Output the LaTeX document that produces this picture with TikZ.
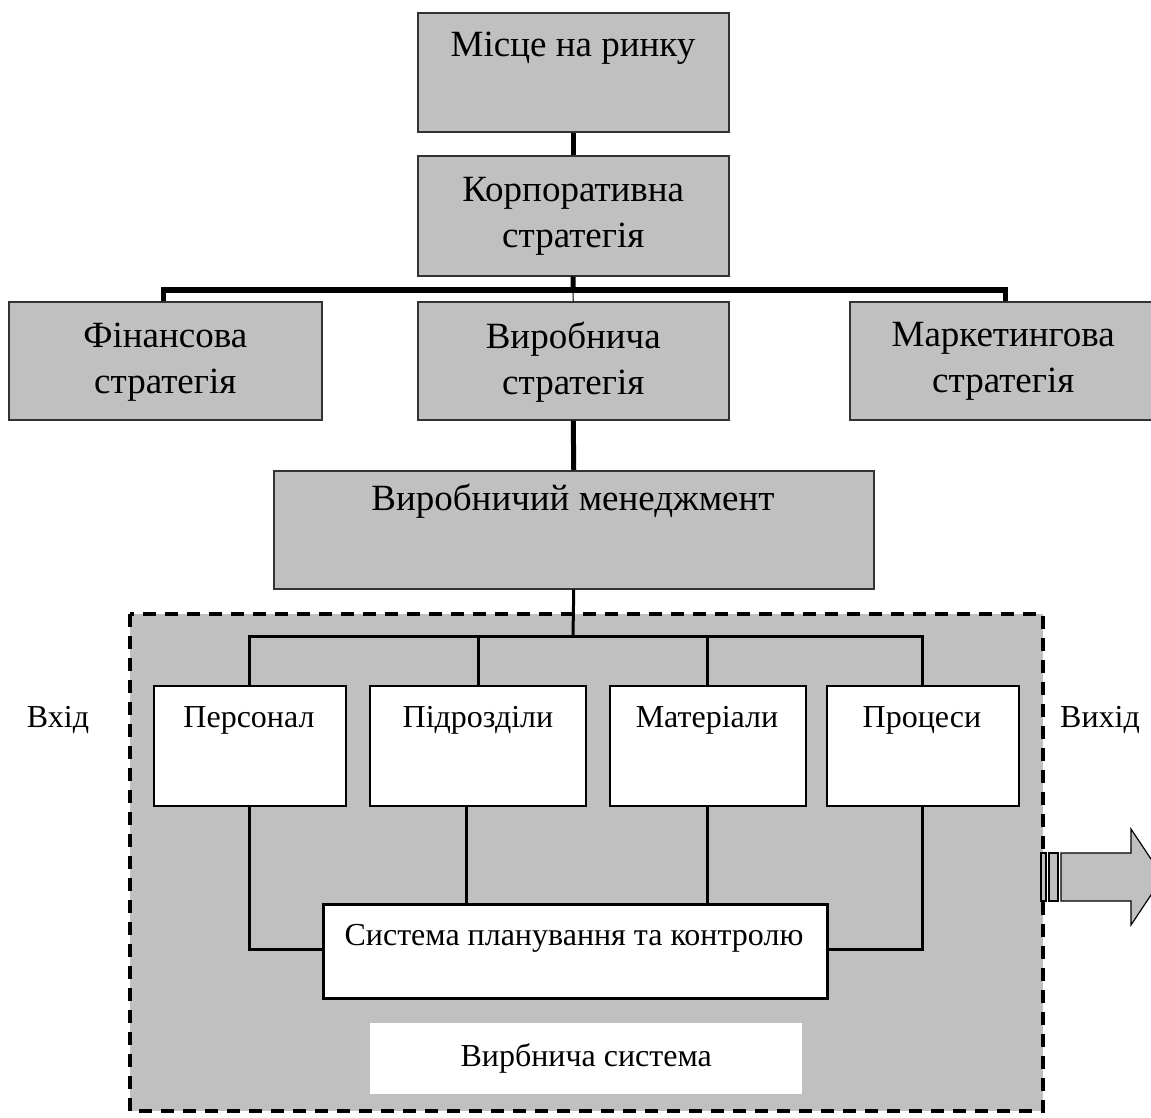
\documentclass[tikz,border=0pt]{standalone}
\usepackage{fontspec}
\setmainfont{Liberation Serif}
\begin{document}
\begin{tikzpicture}[x=1pt,y=-1pt,
  gbox/.style={draw=black!80,line width=1.5pt,fill=gray75,inner sep=0pt,anchor=north west},
  wbox/.style={draw=black,line width=1.5pt,fill=white,inner sep=0pt,anchor=north west},
  big/.style={font=\fontsize{37}{46}\selectfont,align=center,inner sep=0pt},
  small/.style={font=\fontsize{32}{36}\selectfont,align=center,inner sep=0pt},
  thickc/.style={line width=5pt},
  midc/.style={line width=3pt}]
\definecolor{gray75}{HTML}{C0C0C0}
\useasboundingbox (0,0) rectangle (1151,1117);
% dashed production system area
\fill[gray75] (130,614) rectangle (1043,1111);
\draw[line width=3.5pt,dash pattern=on 13pt off 9pt] (130,614) coordinate (dtl) rectangle (1043,1111) coordinate (dbr);
% top boxes
\node[gbox,minimum width=311pt,minimum height=119pt] (mr) at (417,12) {};
\node[big,anchor=center] (mrt) at (573,48) {Місце на ринку};
\node[gbox,minimum width=311pt,minimum height=120pt,big] (ks) at (417,155) {};
\node[big] (kst) at ([yshift=-1pt]ks.center) {Корпоративна\\стратегія};
\node[gbox,minimum width=313pt,minimum height=118pt] (fs) at (8,301) {};
\node[big] (fst) at ([yshift=-1pt]fs.center) {Фінансова\\стратегія};
\node[gbox,minimum width=311pt,minimum height=118pt] (vs) at (417,301) {};
\node[big] (vst) at ([yshift=-1pt]vs.center) {Виробнича\\стратегія};
\node[gbox,minimum width=305pt,minimum height=118pt] (ms) at (849,301) {};
\node[big] (mst) at ([xshift=1pt,yshift=-1pt]ms.center) {Маркетингова\\стратегія};
\node[gbox,minimum width=600pt,minimum height=118pt] (vm) at (273,470) {};
\node[big,anchor=center] (vmt) at (573,501) {Виробничий менеджмент};
% connectors top
\draw[thickc] (mr.south) -- (ks.north);
\coordinate (hb) at (573,290);
\draw[thickc] (ks.south) -- (hb);
\draw[line width=6pt] (163,290) -- (1005,290);
\draw[thickc] (163,287) -- (163,301);
\draw[thickc] (1005,287) -- (1005,301);
\draw[line width=1pt] (hb) -- (vs.north);
\draw[thickc] (vs.south) -- (vm.north);
% white boxes
\node[wbox,minimum width=192pt,minimum height=120pt] (p1) at (153,685) {};
\node[wbox,minimum width=216pt,minimum height=120pt] (p2) at (369,685) {};
\node[wbox,minimum width=196pt,minimum height=120pt] (p3) at (609,685) {};
\node[wbox,minimum width=192pt,minimum height=120pt] (p4) at (826,685) {};
\node[small] (p1t) at (249,720) {Персонал};
\node[small] (p2t) at (478,720) {Підрозділи};
\node[small] (p3t) at (707,720) {Матеріали};
\node[small] (p4t) at (922,720) {Процеси};
\node[wbox,line width=3pt,minimum width=504pt,minimum height=94pt] (sp) at (322,903) {};
\node[small] (spt) at (574,938) {Система планування та контролю};
\node[fill=white,anchor=north west,minimum width=432pt,minimum height=71pt,inner sep=0pt] (vsys) at (370,1023) {};
\node[small] (vsyst) at (vsys.center) {Вирбнича система};
\node[small] (vh) at (58,720) {Вхід};
\node[small] (vyh) at (1100,720) {Вихід};
% inner connectors
\coordinate (hb2) at (573,636);
\draw[midc] (vm.south) -- (hb2);
\draw[midc] (249,685) |- (922,636) -- (922,685);
\draw[midc] (478,636) -- (478,685);
\draw[midc] (707,636) -- (707,685);
\draw[midc] (p1.south -| 249,0) |- (sp.west |- 0,949);
\draw[midc] (p4.south -| 922,0) |- (sp.east |- 0,949);
\draw[midc] (466,805) -- (466,903);
\draw[midc] (707,805) -- (707,903);
% output arrow
\draw[line width=1.2pt,fill=gray75] (1041,853) rectangle (1046,901);
\draw[line width=1.2pt,fill=gray75] (1049,853) rectangle (1058,901);
\draw[line width=1.2pt,fill=gray75] (1061,853) -- (1131,853) -- (1131,829) -- (1163,877) -- (1131,925) -- (1131,901) -- (1061,901) -- cycle;
\end{tikzpicture}
\end{document}
